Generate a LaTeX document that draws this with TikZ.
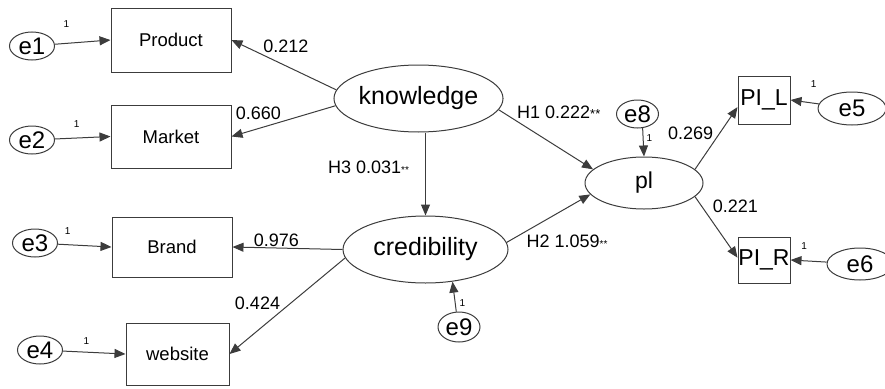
\documentclass[tikz,border=0pt]{standalone}
\usepackage{fontspec}
\setmainfont{Liberation Sans}
\usetikzlibrary{shapes.geometric,arrows.meta}
\definecolor{linegray}{RGB}{60,60,60}
\newcommand{\signif}[1]{{\fontsize{#1}{#1}\selectfont **}}

\begin{document}
\begin{tikzpicture}[x=1pt,y=-1pt,
        every edge/.style={draw=linegray,line width=1pt},
        latent/.style={shape=ellipse,draw=linegray,line width=1pt,inner sep=0pt,font=\fontsize{25}{25}\selectfont},
        errvar/.style={shape=ellipse,draw=linegray,line width=1pt,inner sep=0pt,minimum width=45pt,minimum height=28pt,font=\fontsize{24}{24}\selectfont},
        observed/.style={shape=rectangle,draw=linegray,line width=1pt,inner sep=0pt,font=\fontsize{18.5}{18.5}\selectfont},
        arr/.style={-{Triangle[length=11pt,width=9pt]}},
        coef/.style={font=\fontsize{18}{18}\selectfont,inner sep=1pt},
        one/.style={font=\fontsize{10}{10}\selectfont,inner sep=1pt}]
        \clip (0,0) rectangle (885,388);

        \node[errvar] (e1) at (32,46)    {e1};
        \node[errvar] (e2) at (32,140)   {e2};
        \node[errvar] (e3) at (35,243)   {e3};
        \node[errvar] (e4) at (40,350)   {e4};
        \node[observed,minimum width=120pt,minimum height=64pt] (Product) at (171,40)     {Product};
        \node[observed,minimum width=120pt,minimum height=63pt] (Market) at (171,136.5)   {Market};
        \node[observed,minimum width=120pt,minimum height=60pt] (Brand) at (172,247)      {Brand};
        \node[observed,minimum width=103pt,minimum height=62pt] (website) at (177.5,354)  {website};
        \node[latent,minimum width=167pt,minimum height=67pt] (knowledge) at (418.5,98.5)   {knowledge};
        \node[latent,minimum width=165pt,minimum height=67pt] (credibility) at (425.5,249.5) {credibility};
        \node[latent,minimum width=118pt,minimum height=52pt,font=\fontsize{23}{23}\selectfont] (pl) at (644,183) {pl};
        \node[errvar,minimum width=42pt] (e8) at (637.5,114)   {e8};
        \node[errvar,minimum width=42pt,minimum height=30pt] (e9) at (459,327)   {e9};
        \node[observed,minimum width=52pt,minimum height=48pt,font=\fontsize{23}{23}\selectfont] (piL) at (764,100) {PI\_L};
        \node[observed,minimum width=52pt,minimum height=46pt,font=\fontsize{23}{23}\selectfont] (piR) at (764,260) {PI\_R};
        \node[errvar,minimum width=68pt,minimum height=33pt] (e5) at (852,108.5) {e5};
        \node[errvar,minimum width=66pt,minimum height=32pt] (e6) at (860,264)   {e6};

	\path[arr] (e1) edge node[one,pos=.21,above=14pt]{1} (Product.west);
	\path[arr] (e2) edge node[one,pos=.39,above=9.5pt]{1} (Market.west);
	\path[arr] (e3) edge node[one,pos=.18,above=8.5pt]{1} (Brand.west);
	\path[arr] (e4) edge node[one,pos=.375,above=6pt]{1} (website.west);
	\path[arr] (knowledge.174) edge node[coef,pos=.71,anchor=south west]{0.212} (Product.east);
	\path[arr] (knowledge.185) edge node[coef,pos=.51,anchor=south east]{0.660} (Market.east);
	\path[arr] (credibility.west) edge node[coef,pos=.81,anchor=south west,inner sep=0pt]{0.976} (Brand.east);
	\path[arr] (credibility.186) edge node[coef,pos=.55,anchor=south east]{0.424} (website.east);
	\path[arr] (knowledge.south -| credibility.north) edge node[coef,pos=.42,left=15pt]{H3 0.031\signif{10}} (credibility.north);
	\path[arr] (knowledge.-8) edge node[coef,pos=.18,anchor=south west]{H1 0.222\signif{13}} (pl.165);
	\path[arr] (credibility.5) edge node[coef,pos=.22,anchor=north west,yshift=-2pt]{H2 1.059\signif{10}} (pl.192);
	\path[arr] (e8.-70) edge node[one,pos=.35,right=2pt]{1} (pl.north);
	\path[arr] (e9.100) edge node[one,pos=.29,right=3pt]{1} (credibility.-50);
	\path[arr] (pl.15) edge node[coef,pos=.46,anchor=south east]{0.269} (piL.195);
	\path[arr] (pl.-15) edge node[coef,pos=.15,anchor=west,xshift=10pt]{0.221} (piR.175);
	\path[arr] (e5) edge node[one,pos=.18,above=14pt]{1} (piL.east);
	\path[arr] (e6) edge node[one,pos=.62,above=9.5pt]{1} (piR.east);
\end{tikzpicture}
\end{document}
